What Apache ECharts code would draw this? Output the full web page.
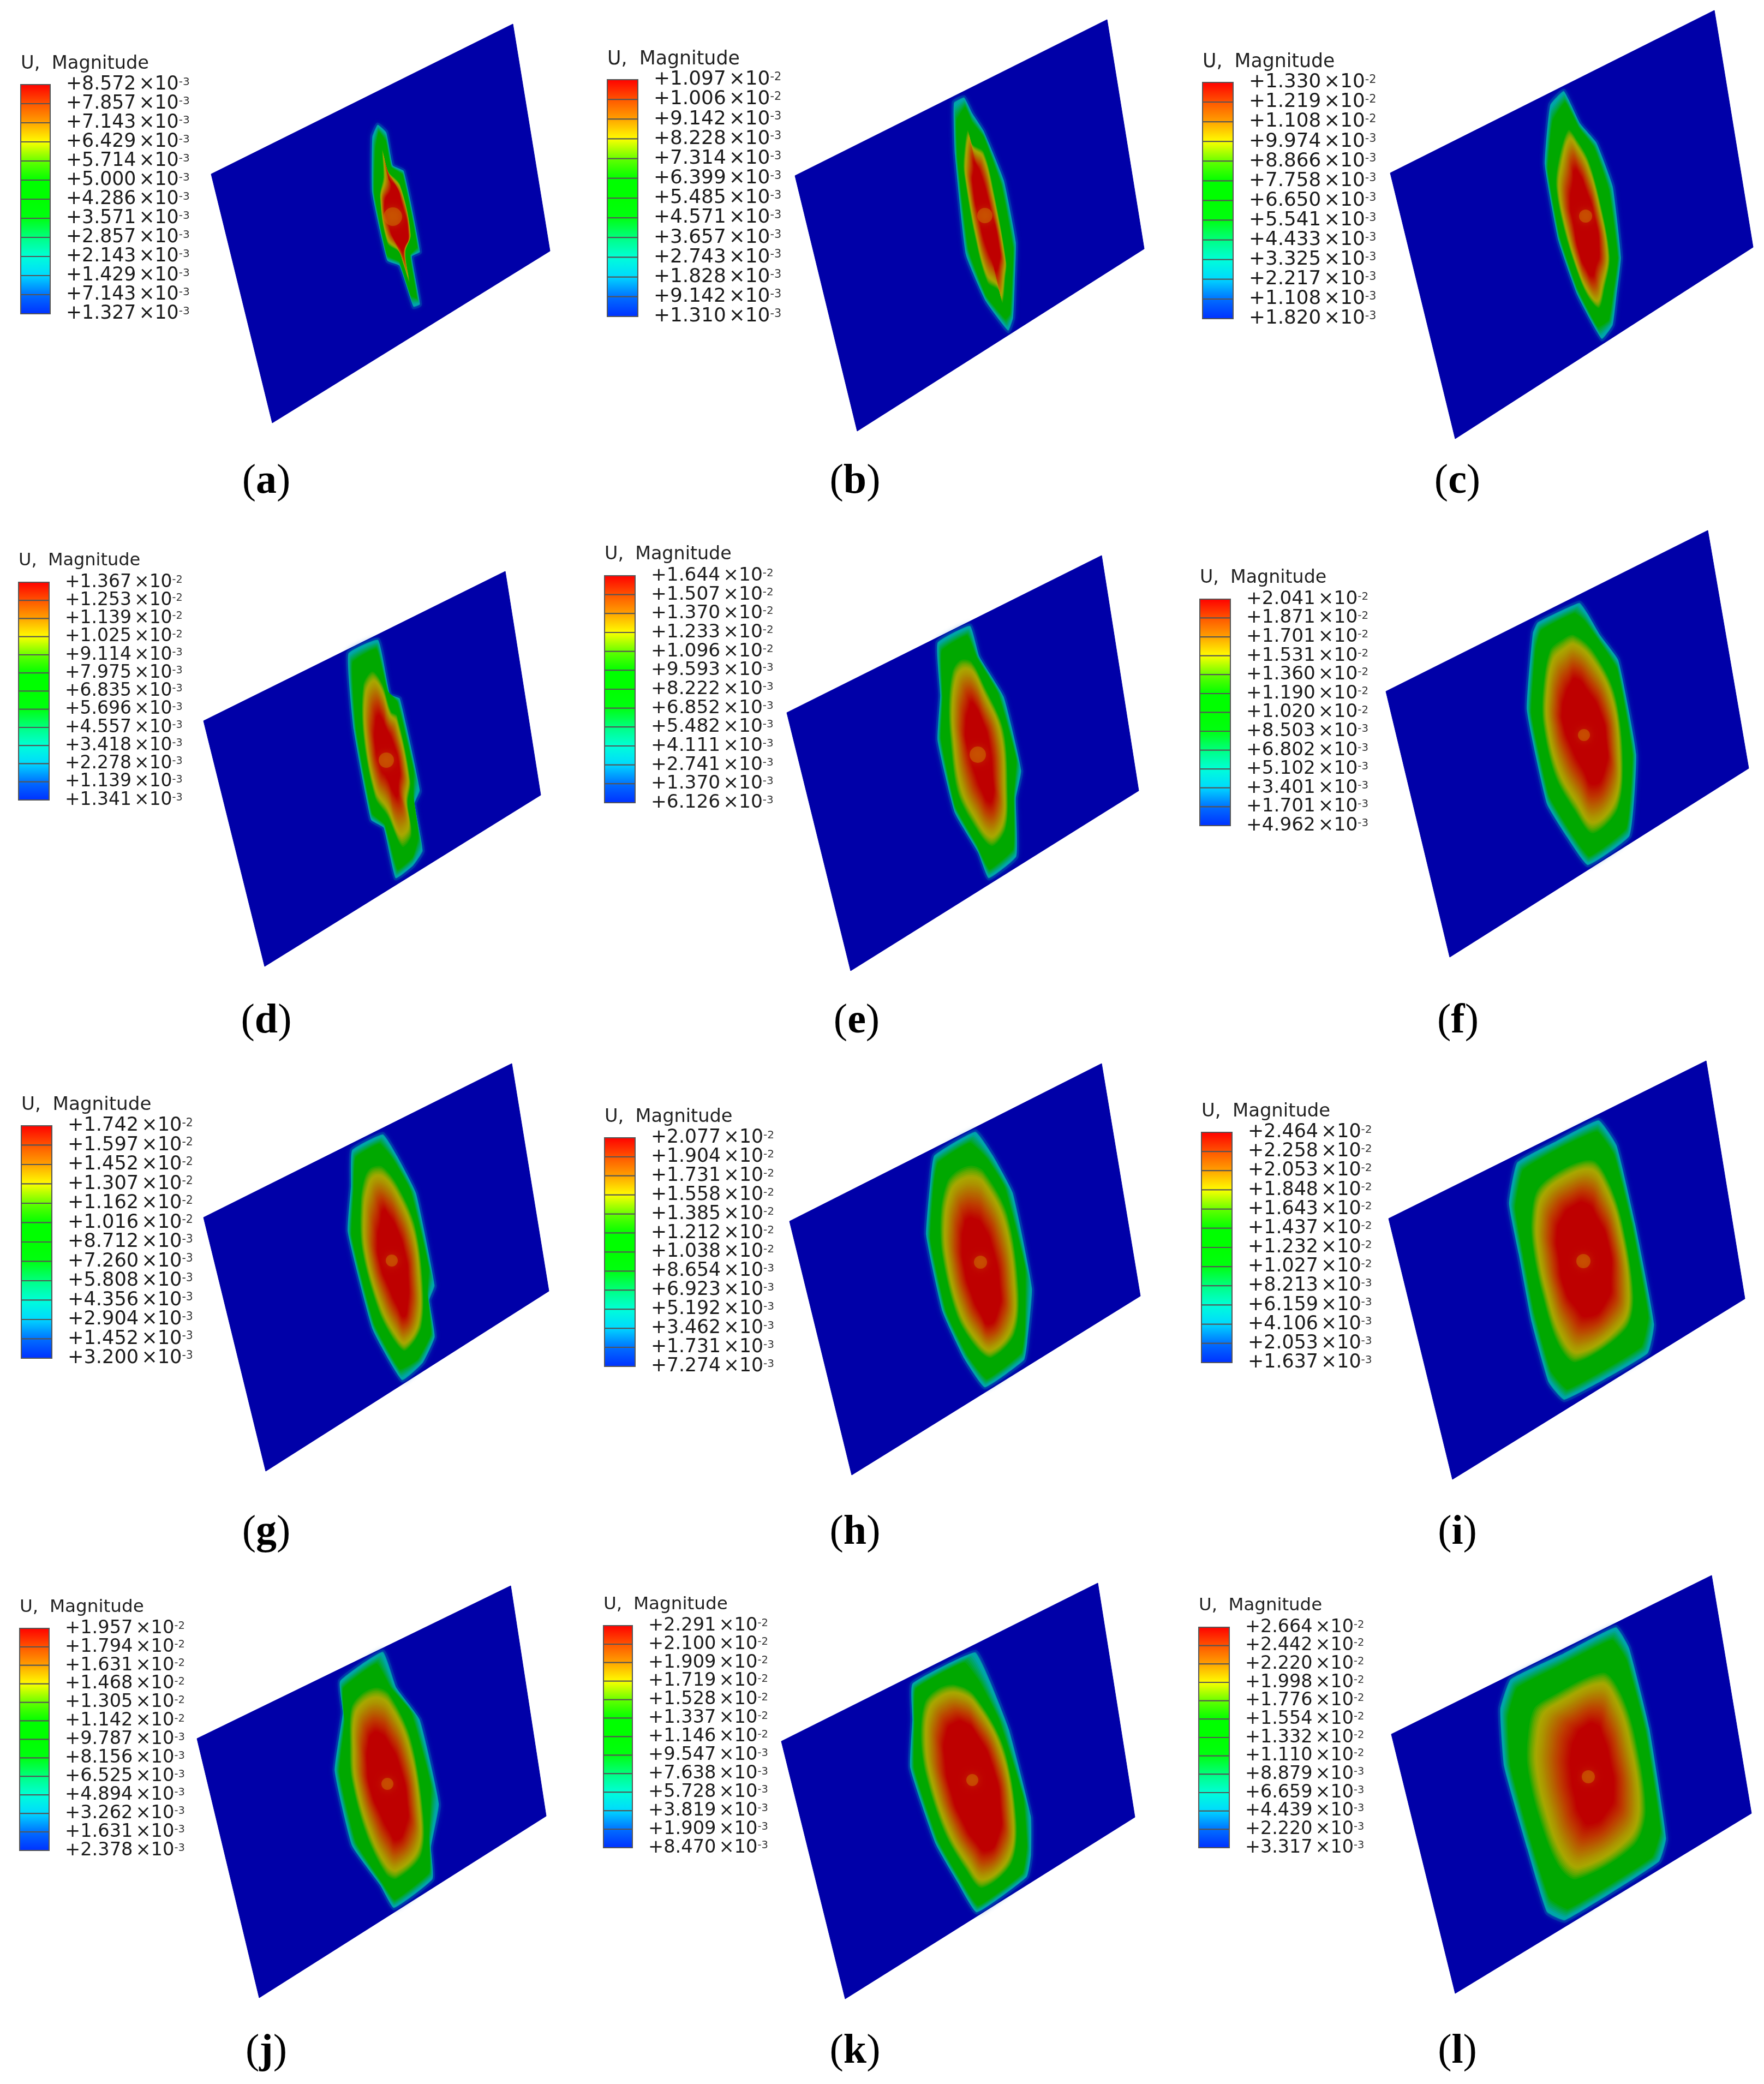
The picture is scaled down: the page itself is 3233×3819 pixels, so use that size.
<!DOCTYPE html>
<html>
<head>
<meta charset="utf-8">
<title>U, Magnitude</title>
<script src="https://cdn.jsdelivr.net/npm/echarts@6/dist/echarts.min.js"></script>
<style>
  html, body { margin: 0; background: #fff; }
  #chart { width: 3233px; height: 3819px; }
</style>
</head>
<body>
<div id="chart"></div>
<script>
const panelLetters = ['a', 'b', 'c', 'd', 'e', 'f', 'g', 'h', 'i', 'j', 'k', 'l'];

// tick labels of each legend, as printed
const legendA = ['8.572e-3', '7.857e-3', '7.143e-3', '6.429e-3', '5.714e-3', '5.000e-3', '4.286e-3', '3.571e-3', '2.857e-3', '2.143e-3', '1.429e-3', '7.143e-3', '1.327e-3'];
const legendB = ['1.097e-2', '1.006e-2', '9.142e-3', '8.228e-3', '7.314e-3', '6.399e-3', '5.485e-3', '4.571e-3', '3.657e-3', '2.743e-3', '1.828e-3', '9.142e-3', '1.310e-3'];
const legendC = ['1.330e-2', '1.219e-2', '1.108e-2', '9.974e-3', '8.866e-3', '7.758e-3', '6.650e-3', '5.541e-3', '4.433e-3', '3.325e-3', '2.217e-3', '1.108e-3', '1.820e-3'];
const legendD = ['1.367e-2', '1.253e-2', '1.139e-2', '1.025e-2', '9.114e-3', '7.975e-3', '6.835e-3', '5.696e-3', '4.557e-3', '3.418e-3', '2.278e-3', '1.139e-3', '1.341e-3'];
const legendE = ['1.644e-2', '1.507e-2', '1.370e-2', '1.233e-2', '1.096e-2', '9.593e-3', '8.222e-3', '6.852e-3', '5.482e-3', '4.111e-3', '2.741e-3', '1.370e-3', '6.126e-3'];
const legendF = ['2.041e-2', '1.871e-2', '1.701e-2', '1.531e-2', '1.360e-2', '1.190e-2', '1.020e-2', '8.503e-3', '6.802e-3', '5.102e-3', '3.401e-3', '1.701e-3', '4.962e-3'];
const legendG = ['1.742e-2', '1.597e-2', '1.452e-2', '1.307e-2', '1.162e-2', '1.016e-2', '8.712e-3', '7.260e-3', '5.808e-3', '4.356e-3', '2.904e-3', '1.452e-3', '3.200e-3'];
const legendH = ['2.077e-2', '1.904e-2', '1.731e-2', '1.558e-2', '1.385e-2', '1.212e-2', '1.038e-2', '8.654e-3', '6.923e-3', '5.192e-3', '3.462e-3', '1.731e-3', '7.274e-3'];
const legendI = ['2.464e-2', '2.258e-2', '2.053e-2', '1.848e-2', '1.643e-2', '1.437e-2', '1.232e-2', '1.027e-2', '8.213e-3', '6.159e-3', '4.106e-3', '2.053e-3', '1.637e-3'];
const legendJ = ['1.957e-2', '1.794e-2', '1.631e-2', '1.468e-2', '1.305e-2', '1.142e-2', '9.787e-3', '8.156e-3', '6.525e-3', '4.894e-3', '3.262e-3', '1.631e-3', '2.378e-3'];
const legendK = ['2.291e-2', '2.100e-2', '1.909e-2', '1.719e-2', '1.528e-2', '1.337e-2', '1.146e-2', '9.547e-3', '7.638e-3', '5.728e-3', '3.819e-3', '1.909e-3', '8.470e-3'];
const legendL = ['2.664e-2', '2.442e-2', '2.220e-2', '1.998e-2', '1.776e-2', '1.554e-2', '1.332e-2', '1.110e-2', '8.879e-3', '6.659e-3', '4.439e-3', '2.220e-3', '3.317e-3'];
const legendTicks = [legendA, legendB, legendC, legendD, legendE, legendF, legendG, legendH, legendI, legendJ, legendK, legendL];

// plate corners
const plates = [
  [[387, 319], [940, 44], [1008, 460], [499, 775]],
  [[1457, 322], [2029, 36], [2097, 456], [1571, 790]],
  [[2548, 317], [3142, 19], [3213, 453], [2667, 804]],
  [[373, 1321], [926, 1047], [991, 1457], [485, 1771]],
  [[1442, 1306], [2019, 1018], [2087, 1449], [1559, 1779]],
  [[2540, 1267], [3130, 972], [3205, 1408], [2657, 1754]],
  [[373, 2231], [938, 1949], [1006, 2366], [487, 2696]],
  [[1447, 2238], [2019, 1949], [2090, 2375], [1561, 2703]],
  [[2545, 2233], [3127, 1944], [3198, 2380], [2662, 2711]],
  [[361, 3186], [936, 2906], [1001, 3328], [475, 3661]],
  [[1432, 3191], [2012, 2901], [2080, 3330], [1549, 3663]],
  [[2550, 3178], [3137, 2887], [3210, 3323], [2667, 3653]]
];

// outer edge of the displaced zone
const rimOutlines = [
  [[682, 250], [692, 228], [708, 242], [720, 303], [740, 313], [770, 462], [755, 470], [770, 558], [758, 563], [732, 487], [710, 478], [682, 353]],
  [[1748, 187], [1767, 178], [1782, 207], [1803, 240], [1840, 330], [1862, 443], [1860, 517], [1857, 583], [1848, 607], [1807, 553], [1770, 467], [1750, 283]],
  [[2841, 191], [2866, 166], [2896, 226], [2926, 261], [2956, 341], [2971, 471], [2963, 541], [2956, 596], [2936, 622], [2891, 541], [2856, 441], [2831, 301]],
  [[638, 1197], [693, 1172], [715, 1273], [733, 1280], [770, 1450], [760, 1473], [775, 1560], [757, 1587], [725, 1610], [703, 1517], [680, 1503], [648, 1337]],
  [[1718, 1177], [1778, 1146], [1795, 1203], [1840, 1277], [1872, 1413], [1862, 1463], [1863, 1570], [1812, 1610], [1793, 1563], [1750, 1490], [1718, 1357], [1723, 1273]],
  [[2818, 1140], [2895, 1104], [2910, 1124], [2933, 1164], [2966, 1209], [2999, 1382], [2987, 1532], [2910, 1586], [2872, 1535], [2835, 1474], [2798, 1301], [2809, 1159]],
  [[645, 2107], [702, 2078], [728, 2118], [763, 2187], [797, 2357], [787, 2383], [797, 2450], [775, 2498], [737, 2530], [683, 2437], [637, 2257], [643, 2173]],
  [[1712, 2117], [1788, 2073], [1820, 2117], [1857, 2187], [1892, 2363], [1883, 2460], [1877, 2493], [1805, 2543], [1767, 2490], [1727, 2403], [1697, 2263], [1705, 2163]],
  [[2765, 2205], [2780, 2130], [2853, 2090], [2930, 2052], [2963, 2098], [2997, 2242], [3032, 2427], [3020, 2481], [2867, 2566], [2838, 2534], [2807, 2424], [2783, 2298]],
  [[623, 3080], [702, 3026], [727, 3093], [770, 3152], [805, 3307], [790, 3386], [793, 3444], [722, 3497], [697, 3455], [645, 3383], [613, 3245], [628, 3138]],
  [[1672, 3085], [1788, 3027], [1815, 3080], [1850, 3170], [1890, 3330], [1890, 3400], [1882, 3440], [1790, 3505], [1755, 3450], [1715, 3380], [1668, 3240], [1672, 3150]],
  [[2749, 3131], [2768, 3077], [2866, 3029], [2962, 2981], [2986, 3019], [3023, 3166], [3054, 3369], [3041, 3412], [2868, 3520], [2835, 3505], [2799, 3389], [2756, 3237]]
];

// where green gives way to yellow
const midOutlines = [
  [[702, 323], [700, 272], [705, 297], [710, 313], [733, 337], [753, 430], [743, 463], [751, 520], [742, 493], [732, 463], [710, 447], [696, 360]],
  [[1765, 297], [1773, 237], [1782, 263], [1803, 277], [1823, 357], [1845, 483], [1843, 510], [1838, 557], [1830, 533], [1810, 520], [1787, 437], [1767, 323]],
  [[2856, 291], [2874, 236], [2891, 256], [2911, 291], [2931, 361], [2951, 471], [2941, 531], [2931, 566], [2911, 546], [2891, 501], [2866, 421], [2851, 341]],
  [[665, 1253], [682, 1228], [700, 1250], [717, 1303], [728, 1310], [753, 1433], [748, 1473], [755, 1533], [738, 1555], [710, 1497], [687, 1463], [665, 1347]],
  [[1745, 1227], [1760, 1207], [1780, 1210], [1803, 1253], [1840, 1337], [1848, 1457], [1843, 1523], [1817, 1553], [1780, 1507], [1753, 1450], [1740, 1347], [1738, 1287]],
  [[2840, 1189], [2863, 1169], [2884, 1161], [2919, 1189], [2959, 1266], [2975, 1382], [2966, 1484], [2919, 1530], [2886, 1489], [2849, 1423], [2827, 1327], [2827, 1260]],
  [[668, 2153], [680, 2137], [700, 2135], [727, 2167], [760, 2240], [775, 2340], [773, 2433], [743, 2477], [723, 2460], [693, 2403], [662, 2287], [660, 2197]],
  [[1735, 2163], [1753, 2143], [1780, 2133], [1803, 2143], [1847, 2223], [1868, 2363], [1860, 2447], [1817, 2490], [1790, 2473], [1753, 2413], [1725, 2297], [1723, 2217]],
  [[2805, 2234], [2817, 2177], [2867, 2138], [2920, 2124], [2947, 2159], [2973, 2234], [2995, 2377], [2980, 2438], [2887, 2499], [2853, 2462], [2823, 2363], [2808, 2288]],
  [[643, 3127], [663, 3101], [690, 3090], [713, 3101], [753, 3183], [777, 3328], [772, 3403], [727, 3445], [707, 3437], [670, 3362], [643, 3259], [640, 3197]],
  [[1694, 3117], [1719, 3092], [1749, 3085], [1784, 3102], [1839, 3197], [1864, 3337], [1854, 3417], [1799, 3462], [1769, 3427], [1729, 3357], [1694, 3247], [1686, 3177]],
  [[2797, 3187], [2808, 3131], [2835, 3110], [2938, 3062], [2969, 3095], [2996, 3171], [3018, 3318], [2996, 3384], [2888, 3447], [2853, 3419], [2816, 3323], [2797, 3237]]
];

// the fully red core
const coreOutlines = [
  [[717, 343], [712, 327], [717, 333], [727, 343], [735, 367], [748, 430], [740, 457], [737, 460], [733, 453], [723, 440], [713, 413], [705, 373]],
  [[1785, 307], [1785, 297], [1790, 303], [1797, 317], [1813, 373], [1832, 457], [1830, 487], [1825, 497], [1820, 483], [1808, 453], [1797, 413], [1783, 337]],
  [[2883, 331], [2886, 311], [2896, 321], [2906, 346], [2921, 391], [2931, 461], [2924, 491], [2918, 506], [2906, 491], [2894, 461], [2884, 411], [2878, 371]],
  [[688, 1327], [693, 1310], [700, 1317], [707, 1333], [720, 1360], [732, 1407], [730, 1440], [728, 1460], [720, 1450], [710, 1427], [697, 1407], [688, 1367]],
  [[1777, 1293], [1780, 1287], [1787, 1293], [1800, 1320], [1812, 1357], [1820, 1430], [1820, 1460], [1813, 1470], [1800, 1450], [1787, 1417], [1773, 1370], [1770, 1327]],
  [[2868, 1276], [2877, 1255], [2888, 1243], [2910, 1266], [2933, 1306], [2944, 1357], [2942, 1408], [2921, 1438], [2900, 1408], [2879, 1367], [2865, 1327], [2863, 1301]],
  [[697, 2240], [703, 2217], [713, 2227], [728, 2253], [743, 2300], [748, 2340], [747, 2393], [740, 2413], [728, 2393], [713, 2360], [697, 2317], [692, 2273]],
  [[1767, 2247], [1773, 2233], [1787, 2233], [1800, 2243], [1820, 2290], [1833, 2363], [1830, 2400], [1813, 2427], [1797, 2407], [1780, 2370], [1767, 2323], [1763, 2277]],
  [[2853, 2263], [2863, 2231], [2883, 2210], [2907, 2205], [2927, 2231], [2947, 2277], [2953, 2341], [2943, 2387], [2910, 2413], [2887, 2395], [2867, 2360], [2857, 2306]],
  [[675, 3197], [683, 3176], [697, 3176], [712, 3193], [733, 3238], [747, 3310], [743, 3348], [727, 3372], [713, 3355], [697, 3324], [680, 3282], [673, 3235]],
  [[1734, 3177], [1749, 3157], [1769, 3157], [1789, 3177], [1819, 3237], [1834, 3317], [1829, 3367], [1809, 3392], [1789, 3377], [1764, 3337], [1744, 3287], [1732, 3227]],
  [[2879, 3211], [2888, 3182], [2901, 3166], [2924, 3159], [2938, 3182], [2951, 3227], [2958, 3283], [2947, 3318], [2915, 3343], [2897, 3328], [2886, 3293], [2879, 3252]]
];

// small lighter patch at the impact point: x, y, size
const spots = [
  [720, 397, 34], [1805, 395, 28], [2906, 396, 24], [708, 1393, 28], [1792, 1383, 30], [2903, 1347, 22],
  [718, 2310, 22], [1797, 2313, 24], [2902, 2311, 26], [710, 3269, 22], [1782, 3262, 22], [2911, 3256, 24]
];

// legend bar left, right, top, bottom
const legendBoxes = [
  [38, 92, 155, 575], [1113, 1169, 146, 580], [2204, 2260, 151, 584],
  [34, 90, 1067, 1466], [1108, 1164, 1055, 1471], [2199, 2255, 1098, 1513],
  [39, 95, 2063, 2489], [1108, 1164, 2085, 2504], [2202, 2258, 2075, 2497],
  [36, 90, 2984, 3391], [1106, 1159, 2979, 3386], [2197, 2253, 2982, 3386]
];

// letter centres under each plate
const letterPos = [
  [488, 883], [1567, 883], [2671, 883], [488, 1872], [1570, 1872], [2672, 1872],
  [488, 2809], [1567, 2809], [2671, 2809], [488, 3760], [1567, 3760], [2671, 3760]
];

const spectrum = ['#ff0000', '#ff5500', '#ffa200', '#ffff00', '#66ff00', '#00ff00', '#00ff00', '#00ff10', '#00ff80', '#00ffd8', '#00d8ff', '#0070ff', '#0030ff', '#0000ff'];

const plateBlue = '#0000a8';
const rimRamp = [[0, [0, 165, 170]], [0.06, [0, 165, 170]], [0.3, [0, 168, 0]], [1, [0, 168, 0]]];
const coreRamp = [[0, [0, 168, 0]], [0.12, [105, 168, 0]], [0.22, [168, 168, 0]], [0.34, [172, 148, 0]], [0.72, [190, 60, 0]], [1, [190, 0, 0]]];

const rampColor = (ramp, s) => {
  for (let i = 1; i < ramp.length; i++) {
    if (s <= ramp[i][0]) {
      const k = (s - ramp[i - 1][0]) / (ramp[i][0] - ramp[i - 1][0]);
      const c = ramp[i - 1][1].map((v, j) => Math.round(v + (ramp[i][1][j] - v) * k));
      return `rgb(${c.join(',')})`;
    }
  }
  return `rgb(${ramp[ramp.length - 1][1].join(',')})`;
};

const blendOutline = (from, to, s) =>
  from.map((p, i) => [p[0] + (to[i][0] - p[0]) * s, p[1] + (to[i][1] - p[1]) * s]);

const grids = [{ left: 0, top: 0, width: 3233, height: 3819 }];
const xAxes = [{ type: 'value', gridIndex: 0, min: 0, max: 3233, show: false }];
const yAxes = [{ type: 'value', gridIndex: 0, min: 0, max: 3819, inverse: true, show: false }];
const series = [];
const titles = [];

panelLetters.forEach((letter, p) => {
  // plate and its displacement field
  series.push({
    type: 'custom',
    xAxisIndex: 0,
    yAxisIndex: 0,
    silent: true,
    clip: false,
    data: [p],
    renderItem: (params, api) => {
      const toPx = pts => pts.map(pt => api.coord(pt));
      const children = [{
        type: 'polygon',
        shape: { points: toPx(plates[p]) },
        style: { fill: plateBlue, stroke: plateBlue, lineWidth: 1 }
      }, {
        // soft blue-teal fringe round the zone
        type: 'polygon',
        shape: { points: toPx(rimOutlines[p]), smooth: 0.12 },
        style: { fill: 'rgb(0,105,172)', stroke: 'rgba(0,80,172,0.55)', lineWidth: 7, shadowBlur: 10, shadowColor: 'rgba(0,90,180,0.5)' }
      }];
      const rimSteps = 8;
      for (let i = 0; i < rimSteps; i++) {
        const s = 0.02 + 0.28 * i / (rimSteps - 1);
        children.push({
          type: 'polygon',
          shape: { points: toPx(blendOutline(rimOutlines[p], midOutlines[p], s)), smooth: 0.12 },
          style: { fill: rampColor(rimRamp, s) }
        });
      }
      children.push({
        type: 'polygon',
        shape: { points: toPx(midOutlines[p]), smooth: 0.3 },
        style: { fill: rampColor(rimRamp, 1) }
      });
      const coreSteps = 30;
      for (let i = 0; i <= coreSteps; i++) {
        const s = i / coreSteps;
        children.push({
          type: 'polygon',
          shape: { points: toPx(blendOutline(midOutlines[p], coreOutlines[p], s)), smooth: 0.3 + 0.3 * s },
          style: { fill: rampColor(coreRamp, s) }
        });
      }
      return { type: 'group', children };
    }
  });

  // legend: its own grid, ticks on a 13 step axis
  const [barLeft, barRight, barTop, barBottom] = legendBoxes[p];
  const ticks = legendTicks[p];
  const g = grids.length;
  const fontSize = (barBottom - barTop) / 12.1;
  // label boxes shorter than the tick step, or the axis drops some as overlapping
  const labelHeight = fontSize - 6;
  grids.push({ left: barLeft, top: barTop, width: barRight - barLeft, height: barBottom - barTop });
  xAxes.push({ type: 'value', gridIndex: g, min: 0, max: 1, show: false });
  yAxes.push({
    type: 'value',
    gridIndex: g,
    position: 'right',
    min: 0,
    max: 12,
    interval: 1,
    inverse: true,
    splitLine: { show: false },
    axisLine: { show: true, lineStyle: { color: '#555', width: 2 } },
    axisTick: { show: true, length: 17, lineStyle: { color: '#444', width: 2 } },
    axisLabel: {
      margin: 29,
      showMinLabel: true,
      showMaxLabel: true,
      hideOverlap: false,
      formatter: v => {
        const [mantissa, exponent] = ticks[v].split('e');
        return `{n|+${mantissa}}{x|×}{n|10}{e|${exponent}}`;
      },
      rich: {
        n: { fontFamily: 'DejaVu Sans', fontSize, color: '#1c1c1c', lineHeight: labelHeight },
        x: { fontFamily: 'DejaVu Sans', fontSize, color: '#1c1c1c', lineHeight: labelHeight, padding: [0, 0, 0, 5] },
        e: { fontFamily: 'DejaVu Sans', fontSize: fontSize * 0.58, color: '#333', verticalAlign: 'top', lineHeight: labelHeight }
      }
    }
  });
  series.push({
    type: 'custom',
    xAxisIndex: g,
    yAxisIndex: g,
    silent: true,
    data: spectrum.slice(0, 12).map((c, i) => [i]),
    renderItem: (params, api) => {
      const i = api.value(0);
      const a = api.coord([0, i]);
      const b = api.coord([1, i + 1]);
      return {
        type: 'rect',
        shape: { x: a[0], y: a[1], width: b[0] - a[0], height: b[1] - a[1] },
        style: {
          fill: new echarts.graphic.LinearGradient(0, 0, 0, 1, [
            { offset: 0, color: spectrum[i] },
            { offset: 1, color: spectrum[i + 1] }
          ]),
          stroke: '#555',
          lineWidth: 2
        }
      };
    }
  });

  titles.push({
    text: 'U,  Magnitude',
    left: barLeft,
    top: barTop - 55,
    padding: 0,
    textStyle: { fontFamily: 'DejaVu Sans', fontSize: fontSize * 0.97, fontWeight: 'normal', color: '#222' }
  });
  titles.push({
    text: `{p|(}{b|${letter}}{p|)}`,
    left: letterPos[p][0],
    top: letterPos[p][1] - 44,
    textAlign: 'center',
    padding: 0,
    textStyle: {
      fontWeight: 'normal',
      rich: {
        p: { fontFamily: 'Liberation Serif', fontSize: 76, fontWeight: 'normal', color: '#000', lineHeight: 88 },
        b: { fontFamily: 'Liberation Serif', fontSize: 76, fontWeight: 'bold', color: '#000', lineHeight: 88 }
      }
    }
  });
});

series.push({
  type: 'scatter',
  xAxisIndex: 0,
  yAxisIndex: 0,
  silent: true,
  z: 5,
  data: spots,
  symbolSize: d => d[2],
  itemStyle: { color: 'rgba(205,125,0,0.6)', shadowBlur: 14, shadowColor: 'rgba(205,125,0,0.7)' }
});

const chart = echarts.init(document.getElementById('chart'), null, { renderer: 'canvas' });
chart.setOption({
  animation: false,
  backgroundColor: '#fff',
  title: titles,
  grid: grids,
  xAxis: xAxes,
  yAxis: yAxes,
  series
});
</script>
</body>
</html>
